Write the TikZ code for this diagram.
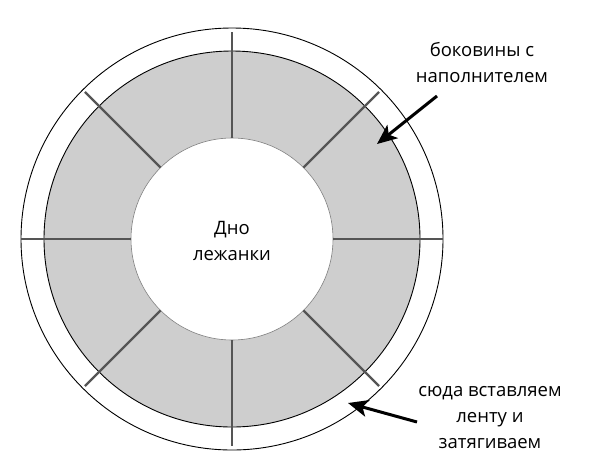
\documentclass[tikz,border=0pt]{standalone}
\usepackage{fontspec}
\setmainfont{Open Sans}
\usetikzlibrary{arrows.meta}
\definecolor{ringgray}{RGB}{206,206,206}
\definecolor{divgray}{RGB}{85,85,85}
\tikzset{
  ringline/.style={draw=black, line width=0.9pt},
  divider/.style={draw=divgray, line width=2.2pt},
  pointer/.style={draw=black, line width=3pt, -{Stealth[length=20pt,width=17pt,inset=5pt]}},
  label/.style={font=\fontsize{18.5}{26}\selectfont, align=center, inner sep=0pt},
}
\begin{document}
\begin{tikzpicture}[x=1pt,y=-1pt]
\useasboundingbox[fill=white] (0,0) rectangle (596,469);
\coordinate (c) at (232,239);
\node[circle, ringline, minimum size=422pt, inner sep=0pt] (outer) at (c) {};
\node[circle, ringline, fill=ringgray, minimum size=376pt, inner sep=0pt] (ring) at (c) {};
\node[circle, draw=gray, line width=0.6pt, fill=white, minimum size=202pt, inner sep=0pt] (base) at (c) {};
\foreach \a/\r in {0/211,180/211,90/207,270/207,45/208,135/208,225/208,315/208}{
  \draw[divider] ([shift={(c)}]\a:101) -- ([shift={(c)}]\a:\r);
}
\node[label] (basetext) at (232,241) {Дно\\лежанки};
\node[label] (lab1) at (482,63) {боковины с\\наполнителем};
\node[label] (lab2) at (490,418) {сюда вставляем\\ленту и\\затягиваем};
\coordinate (a1from) at (437,96);
\coordinate (a1to) at (377,144);
\coordinate (a2from) at (417,422);
\coordinate (a2to) at (348,403);
\draw[pointer] (a1from) -- (a1to);
\draw[pointer] (a2from) -- (a2to);
\end{tikzpicture}
\end{document}
